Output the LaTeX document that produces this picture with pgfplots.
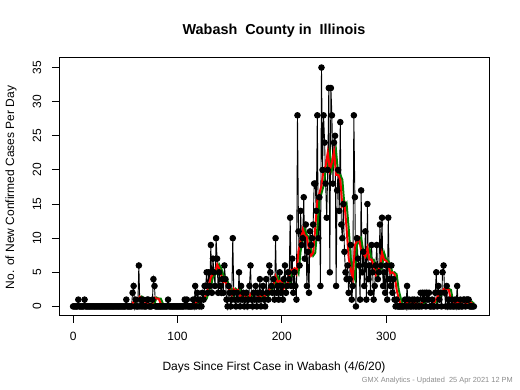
\documentclass[border=0pt]{standalone}
\usepackage{fontspec}
\setmainfont{Liberation Sans}
\usepackage{pgfplots}
\pgfplotsset{compat=1.18}
\usepackage{pgfplotstable}
\definecolor{rgreen}{RGB}{0,128,0}
\definecolor{footgray}{RGB}{140,140,140}
\pgfplotstableread[row sep=\\]{
d c\\
0 0\\1 0\\2 0\\3 0\\4 0\\5 1\\6 0\\7 0\\8 0\\9 0\\
10 0\\11 1\\12 0\\13 0\\14 0\\15 0\\16 0\\17 0\\18 0\\19 0\\
20 0\\21 0\\22 0\\23 0\\24 0\\25 0\\26 0\\27 0\\28 0\\29 0\\
30 0\\31 0\\32 0\\33 0\\34 0\\35 0\\36 0\\37 0\\38 0\\39 0\\
40 0\\41 0\\42 0\\43 0\\44 0\\45 0\\46 0\\47 0\\48 0\\49 0\\
50 0\\51 1\\52 0\\53 0\\54 0\\55 0\\56 0\\57 2\\58 3\\59 0\\
60 1\\61 0\\62 0\\63 6\\64 0\\65 1\\66 0\\67 1\\68 0\\69 0\\
70 0\\71 1\\72 1\\73 0\\74 0\\75 0\\76 1\\77 4\\78 3\\79 0\\
80 0\\81 0\\82 0\\83 0\\84 0\\85 0\\86 0\\87 0\\88 0\\89 0\\
90 0\\91 1\\92 0\\93 0\\94 0\\95 0\\96 0\\97 0\\98 0\\99 0\\
100 0\\101 0\\102 0\\103 0\\104 0\\105 0\\106 0\\107 1\\108 0\\109 1\\
110 0\\111 0\\112 0\\113 0\\114 0\\115 1\\116 0\\117 3\\118 0\\119 2\\
120 1\\121 0\\122 1\\123 0\\124 2\\125 1\\126 3\\127 3\\128 5\\129 2\\
130 5\\131 3\\132 9\\133 2\\134 7\\135 5\\136 3\\137 10\\138 7\\139 2\\
140 5\\141 3\\142 2\\143 4\\144 2\\145 6\\146 4\\147 1\\148 0\\149 3\\
150 2\\151 0\\152 1\\153 10\\154 2\\155 1\\156 0\\157 2\\158 1\\159 5\\
160 0\\161 3\\162 1\\163 2\\164 0\\165 1\\166 2\\167 0\\168 1\\169 3\\
170 6\\171 1\\172 0\\173 2\\174 1\\175 3\\176 0\\177 2\\178 1\\179 4\\
180 0\\181 2\\182 3\\183 1\\184 0\\185 4\\186 2\\187 1\\188 6\\189 5\\
190 3\\191 2\\192 4\\193 1\\194 10\\195 2\\196 3\\197 1\\198 5\\199 2\\
200 3\\201 1\\202 4\\203 6\\204 2\\205 3\\206 5\\207 4\\208 13\\209 3\\
210 7\\211 2\\212 5\\213 3\\214 1\\215 28\\216 11\\217 6\\218 14\\219 9\\
220 10\\221 16\\222 7\\223 12\\224 3\\225 8\\226 2\\227 11\\228 9\\229 10\\
230 12\\231 18\\232 18\\233 14\\234 28\\235 10\\236 16\\237 3\\238 35\\239 20\\
240 28\\241 24\\242 18\\243 13\\244 20\\245 32\\246 5\\247 32\\248 28\\249 18\\
250 24\\251 25\\252 3\\253 17\\254 20\\255 14\\256 27\\257 12\\258 10\\259 15\\
260 8\\261 5\\262 4\\263 6\\264 2\\265 4\\266 9\\267 1\\268 3\\269 28\\
270 16\\271 0\\272 10\\273 7\\274 6\\275 1\\276 17\\277 5\\278 8\\279 3\\
280 11\\281 1\\282 15\\283 4\\284 6\\285 2\\286 9\\287 5\\288 1\\289 3\\
290 6\\291 9\\292 4\\293 5\\294 12\\295 6\\296 13\\297 3\\298 5\\299 2\\
300 6\\301 1\\302 13\\303 4\\304 3\\305 6\\306 2\\307 4\\308 1\\309 0\\
310 1\\311 0\\312 0\\313 0\\314 0\\315 0\\316 0\\317 0\\318 1\\319 0\\
320 3\\321 0\\322 1\\323 0\\324 0\\325 1\\326 0\\327 1\\328 0\\329 0\\
330 1\\331 0\\332 0\\333 2\\334 0\\335 2\\336 1\\337 2\\338 0\\339 2\\
340 1\\341 2\\342 0\\343 0\\344 1\\345 0\\346 0\\347 2\\348 5\\349 0\\
350 3\\351 1\\352 2\\353 0\\354 5\\355 6\\356 2\\357 0\\358 3\\359 0\\
360 1\\361 0\\362 0\\363 1\\364 0\\365 0\\366 1\\367 0\\368 3\\369 0\\
370 0\\371 1\\372 0\\373 0\\374 1\\375 1\\376 0\\377 1\\378 1\\379 1\\
380 0\\381 0\\382 0\\383 0\\384 0\\
}\daily
\pgfplotstableread[row sep=\\]{
d r g\\
6 .14 0\\8 .14 .14\\10 .14 .14\\12 .14 .14\\14 .14 .14\\16 .14 .14\\18 0 .14\\20 0 0\\
22 0 0\\24 0 0\\26 0 0\\28 0 0\\30 0 0\\32 0 0\\34 0 0\\36 0 0\\38 0 0\\40 0 0\\
42 0 0\\44 0 0\\46 0 0\\48 0 0\\50 0 0\\52 .14 0\\54 .14 .14\\56 .14 .14\\58 .71 .14\\
60 .86 .71\\62 .86 .86\\64 1.43 .86\\66 1.14 1.43\\68 1.14 1.14\\70 .29 1.14\\72 .43 .29\\
74 .29 .43\\76 .43 .29\\78 1.29 .43\\80 1.14 1.29\\82 1.14 1.14\\84 .43 1.14\\86 0 .43\\
88 0 0\\90 0 0\\92 .14 0\\94 .14 .14\\96 .14 .14\\98 0 .14\\100 0 0\\102 0 0\\104 0 0\\
106 0 0\\108 .14 0\\110 .29 .14\\112 .29 .29\\114 .14 .29\\116 .14 .14\\118 .57 .14\\
120 1.0 .57\\122 1.0 1.0\\124 .86 1.0\\126 1.14 .86\\128 2.14 1.14\\130 3.0 2.14\\
132 4.29 3.0\\134 4.71 4.29\\136 4.86 4.71\\138 6.14 4.86\\140 5.57 6.14\\142 4.57 5.57\\
144 3.57 4.57\\146 3.71 3.57\\148 2.71 3.71\\150 2.57 2.71\\152 1.57 2.57\\154 2.57 1.57\\
156 2.29 2.57\\158 2.43 2.29\\160 1.57 2.43\\162 1.71 1.57\\164 1.71 1.71\\166 1.29 1.71\\
168 1.0 1.29\\170 1.86 1.0\\172 1.86 1.86\\174 2.0 1.86\\176 1.86 2.0\\178 1.29 1.86\\
180 1.57 1.29\\182 1.71 1.57\\184 1.57 1.71\\186 1.71 1.57\\188 2.43 1.71\\190 3.0 2.43\\
192 3.29 3.0\\194 4.43 3.29\\196 3.57 4.43\\198 3.71 3.57\\200 3.71 3.71\\202 2.71 3.71\\
204 3.29 2.71\\206 3.43 3.29\\208 5.29 3.43\\210 5.29 5.29\\212 5.57 5.29\\214 4.86 5.57\\
216 8.14 4.86\\218 9.71 8.14\\220 11.29 9.71\\222 10.43 11.29\\224 10.14 10.43\\226 8.29 10.14\\
228 7.43 8.29\\230 7.86 7.43\\232 11.43 7.86\\234 15.57 11.43\\236 16.57 15.57\\238 17.71 16.57\\
240 20.0 17.71\\242 20.57 20.0\\244 22.57 20.57\\246 20.0 22.57\\248 21.14 20.0\\250 22.71 21.14\\
252 19.29 22.71\\254 19.29 19.29\\256 18.57 19.29\\258 14.71 18.57\\260 15.14 14.71\\
262 11.57 15.14\\264 7.14 11.57\\266 5.43 7.14\\268 4.14 5.43\\270 9.0 4.14\\272 9.57 9.0\\
274 10.0 9.57\\276 8.14 10.0\\278 7.71 8.14\\280 7.29 7.71\\282 8.57 7.29\\284 6.86 8.57\\
286 6.86 6.86\\288 6.0 6.86\\290 4.57 6.0\\292 5.29 4.57\\294 5.71 5.29\\296 7.86 5.71\\
298 6.86 7.86\\300 6.71 6.86\\302 6.14 6.71\\304 4.86 6.14\\306 5.0 4.86\\308 4.71 5.0\\
310 2.43 4.71\\312 1.14 2.43\\314 .29 1.14\\316 .14 .29\\318 .14 .14\\320 .57 .14\\
322 .71 .57\\324 .71 .71\\326 .71 .71\\328 .43 .71\\330 .43 .43\\332 .29 .43\\334 .43 .29\\
336 .86 .43\\338 1.0 .86\\340 1.14 1.0\\342 1.14 1.14\\344 .86 1.14\\346 .57 .86\\
348 1.14 .57\\350 1.57 1.14\\352 1.86 1.57\\354 2.29 1.86\\356 2.71 2.29\\358 2.57 2.71\\
360 2.43 2.57\\362 .86 2.43\\364 .71 .86\\366 .43 .71\\368 .71 .43\\370 .57 .71\\
372 .71 .57\\374 .71 .71\\376 .43 .71\\378 .57 .43\\380 .71 .57\\382 .43 .71\\384 .29 .43\\
}\avg
\begin{document}
\begin{tikzpicture}[x=1pt,y=1pt]
\path[use as bounding box] (0,0) rectangle (520,390);
\begin{axis}[
  at={(59pt,74pt)}, anchor=south west, scale only axis,
  width=430pt, height=258pt,
  xmin=-13.5, xmax=398.5, ymin=-1.4, ymax=36.4,
  axis line style={line width=1pt},
  xtick={0,100,200,300}, ytick={0,5,10,15,20,25,30,35},
  xtick pos=left, ytick pos=left,
  tick align=outside, major tick length=7pt,
  every tick/.style={black, line width=1pt},
  /pgf/number format/assume math mode=true,
  tick label style={font=\fontsize{12}{14}\selectfont},
  xticklabel style={anchor=center, yshift=-13.5pt},
  yticklabel style={rotate=90, anchor=center, yshift=15pt},
]
\addplot[black, line width=0.9pt, mark=*, mark size=2.8pt, mark options={black}] table[x=d,y=c]{\daily};
\addplot[rgreen, line width=2pt] table[x=d,y=g]{\avg};
\addplot[red, line width=2pt] table[x=d,y=r]{\avg};
\end{axis}
\node[font=\fontsize{14.4}{17}\selectfont\bfseries] at (274,359) {Wabash\ \ County in\ \ Illinois};
\node[font=\fontsize{12}{14}\selectfont] at (274,23) {Days Since First Case in Wabash (4/6/20)};
\node[font=\fontsize{12}{14}\selectfont, rotate=90] at (11,202.5) {No. of New Confirmed Cases Per Day};
\node[font=\fontsize{7.4}{9}\selectfont, text=footgray, anchor=east, inner sep=0pt] at (513,9.5) {GMX Analytics - Updated\ \ 25 Apr 2021 12 PM};
\end{tikzpicture}
\end{document}
